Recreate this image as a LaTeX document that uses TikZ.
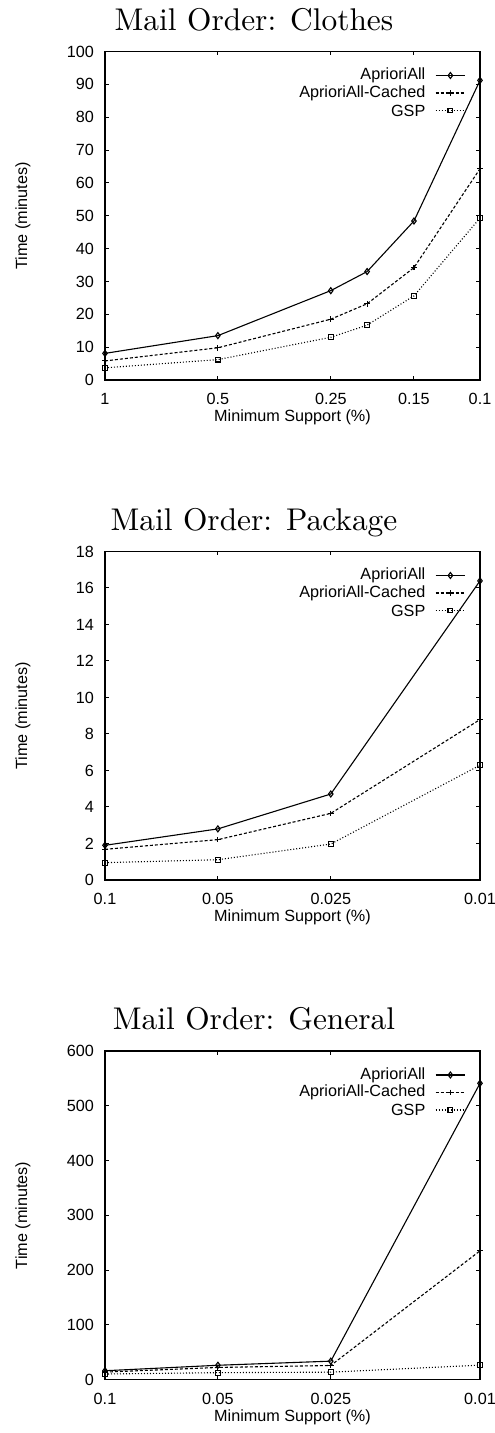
\documentclass[tikz,border=0pt]{standalone}
\usepackage{fontspec}
\usetikzlibrary{plotmarks}
\newfontfamily\gpfont{Liberation Sans}

\begin{document}
\begin{tikzpicture}[
    frameLine/.style={line width=0.8pt},
    tickLine/.style={line width=0.5pt},
    tickLbl/.style={font=\gpfont\fontsize{8.1}{9.5}\selectfont, inner sep=0pt},
    plotTitle/.style={font=\fontsize{10}{12}\selectfont, scale=1.57, transform shape, anchor=base, inner sep=0pt},
    aprLine/.style={line width=0.55pt, mark=diamond, mark size=1.5pt, mark options={solid}},
    cachedLine/.style={line width=0.55pt, dash pattern=on 1.5pt off 1pt, mark=+, mark size=1.4pt, mark options={solid}},
    gspLine/.style={line width=0.55pt, dash pattern=on 0.5pt off 1pt, mark=square, mark size=1.2pt, mark options={solid}}]
    \useasboundingbox (0,0) rectangle (247pt,716.5pt);

    % Clothes
    \begin{scope}[shift={(52.5pt,526.5pt)}, x=187.5pt, y=1.6425pt]
        \node[plotTitle] (c-title) at (74.5pt,174.75pt) {Mail Order: Clothes};
        \foreach \v in {0,10,...,100} {
            \draw[tickLine] (0,\v) -- ++(2pt,0);
            \draw[tickLine] (1,\v) -- ++(-2pt,0);
            \node[tickLbl, anchor=east] (c-y\v) at ([xshift=-5.35pt]0,\v) {\v};
        }
        \foreach \p/\s in {0/1, 0.30103/0.5, 0.60206/0.25, 0.82391/0.15, 1/0.1} {
            \draw[tickLine] (\p,0) -- ++(0,2pt);
            \draw[tickLine] (\p,100) -- ++(0,-2pt);
            \node[tickLbl, anchor=base] (c-x\s) at ([yshift=-12.5pt]\p,0) {\s};
        }
        \draw[frameLine] (0,0) rectangle (1,100);
        \node[tickLbl, rotate=90] (c-ylab) at (-41pt,82.1pt) {Time (minutes)};
        \node[tickLbl, anchor=base] (c-xlab) at (93.75pt,-21pt) {Minimum Support (\%)};
        \draw[aprLine] plot coordinates {(0,8.1) (0.30103,13.5) (0.60206,27.2) (0.69897,33.0) (0.82391,48.4) (1,91.2)};
        \draw[cachedLine] plot coordinates {(0,5.8) (0.30103,9.8) (0.60206,18.5) (0.69897,23.2) (0.82391,34.2) (1,64.3)};
        \draw[gspLine] plot coordinates {(0,3.7) (0.30103,6.2) (0.60206,13.0) (0.69897,16.7) (0.82391,25.6) (1,49.3)};
        % key
        \node[tickLbl, anchor=east] (c-k1) at (160.35pt,152.25pt) {AprioriAll};
        \node[tickLbl, anchor=east] (c-k2) at (160.35pt,143.5pt) {AprioriAll-Cached};
        \node[tickLbl, anchor=east] (c-k3) at (160.35pt,134.75pt) {GSP};
        \draw[aprLine, mark indices={2}] plot coordinates {(165.35pt,152.25pt) (172.7pt,152.25pt) (180pt,152.25pt)};
        \draw[cachedLine, mark indices={2}] plot coordinates {(165.35pt,143.5pt) (172.7pt,143.5pt) (180pt,143.5pt)};
        \draw[gspLine, mark indices={2}] plot coordinates {(165.35pt,134.75pt) (172.7pt,134.75pt) (180pt,134.75pt)};
    \end{scope}

    % Package
    \begin{scope}[shift={(52.5pt,276.5pt)}, x=187.5pt, y=9.125pt]
        \node[plotTitle] (p-title) at (74.5pt,174.75pt) {Mail Order: Package};
        \foreach \v in {0,2,...,18} {
            \draw[tickLine] (0,\v) -- ++(2pt,0);
            \draw[tickLine] (1,\v) -- ++(-2pt,0);
            \node[tickLbl, anchor=east] (p-y\v) at ([xshift=-5.35pt]0,\v) {\v};
        }
        \foreach \p/\s in {0/0.1, 0.30103/0.05, 0.60206/0.025, 1/0.01} {
            \draw[tickLine] (\p,0) -- ++(0,2pt);
            \draw[tickLine] (\p,18) -- ++(0,-2pt);
            \node[tickLbl, anchor=base] (p-x\s) at ([yshift=-12.5pt]\p,0) {\s};
        }
        \draw[frameLine] (0,0) rectangle (1,18);
        \node[tickLbl, rotate=90] (p-ylab) at (-41pt,82.1pt) {Time (minutes)};
        \node[tickLbl, anchor=base] (p-xlab) at (93.75pt,-21pt) {Minimum Support (\%)};
        \draw[aprLine] plot coordinates {(0,1.9) (0.30103,2.8) (0.60206,4.71) (1,16.39)};
        \draw[cachedLine] plot coordinates {(0,1.68) (0.30103,2.21) (0.60206,3.65) (1,8.79)};
        \draw[gspLine] plot coordinates {(0,0.95) (0.30103,1.11) (0.60206,1.97) (1,6.29)};
        % key
        \node[tickLbl, anchor=east] (p-k1) at (160.35pt,152.25pt) {AprioriAll};
        \node[tickLbl, anchor=east] (p-k2) at (160.35pt,143.5pt) {AprioriAll-Cached};
        \node[tickLbl, anchor=east] (p-k3) at (160.35pt,134.75pt) {GSP};
        \draw[aprLine, mark indices={2}] plot coordinates {(165.35pt,152.25pt) (172.7pt,152.25pt) (180pt,152.25pt)};
        \draw[cachedLine, mark indices={2}] plot coordinates {(165.35pt,143.5pt) (172.7pt,143.5pt) (180pt,143.5pt)};
        \draw[gspLine, mark indices={2}] plot coordinates {(165.35pt,134.75pt) (172.7pt,134.75pt) (180pt,134.75pt)};
    \end{scope}

    % General
    \begin{scope}[shift={(52.5pt,26.75pt)}, x=187.5pt, y=0.27375pt]
        \node[plotTitle] (g-title) at (74.5pt,174.75pt) {Mail Order: General};
        \foreach \v in {0,100,...,600} {
            \draw[tickLine] (0,\v) -- ++(2pt,0);
            \draw[tickLine] (1,\v) -- ++(-2pt,0);
            \node[tickLbl, anchor=east] (g-y\v) at ([xshift=-5.35pt]0,\v) {\v};
        }
        \foreach \p/\s in {0/0.1, 0.30103/0.05, 0.60206/0.025, 1/0.01} {
            \draw[tickLine] (\p,0) -- ++(0,2pt);
            \draw[tickLine] (\p,600) -- ++(0,-2pt);
            \node[tickLbl, anchor=base] (g-x\s) at ([yshift=-12.5pt]\p,0) {\s};
        }
        \draw[frameLine] (0,0) rectangle (1,600);
        \node[tickLbl, rotate=90] (g-ylab) at (-41pt,82.1pt) {Time (minutes)};
        \node[tickLbl, anchor=base] (g-xlab) at (93.75pt,-21pt) {Minimum Support (\%)};
        \draw[aprLine] plot coordinates {(0,16) (0.30103,26) (0.60206,33.5) (1,541)};
        \draw[cachedLine] plot coordinates {(0,13.5) (0.30103,22) (0.60206,25.6) (1,235)};
        \draw[gspLine] plot coordinates {(0,10) (0.30103,12.5) (0.60206,13.4) (1,26.2)};
        % key
        \node[tickLbl, anchor=east] (g-k1) at (160.35pt,152.25pt) {AprioriAll};
        \node[tickLbl, anchor=east] (g-k2) at (160.35pt,143.5pt) {AprioriAll-Cached};
        \node[tickLbl, anchor=east] (g-k3) at (160.35pt,134.75pt) {GSP};
        \draw[aprLine, mark indices={2}] plot coordinates {(165.35pt,152.25pt) (172.7pt,152.25pt) (180pt,152.25pt)};
        \draw[cachedLine, mark indices={2}] plot coordinates {(165.35pt,143.5pt) (172.7pt,143.5pt) (180pt,143.5pt)};
        \draw[gspLine, mark indices={2}] plot coordinates {(165.35pt,134.75pt) (172.7pt,134.75pt) (180pt,134.75pt)};
    \end{scope}
\end{tikzpicture}
\end{document}
